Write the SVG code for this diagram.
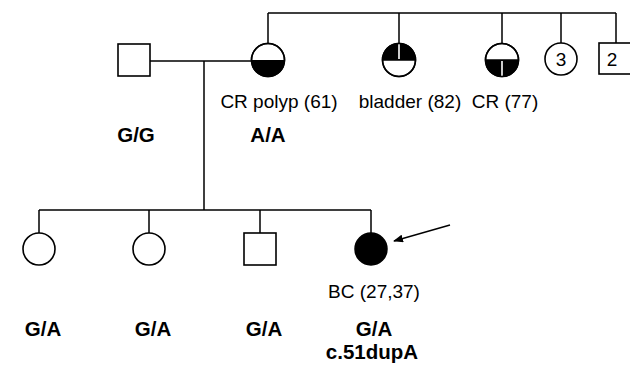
<svg xmlns="http://www.w3.org/2000/svg" width="630" height="365" viewBox="0 0 630 365">
<style>
.ln{stroke:#000;stroke-width:1.5;fill:none}
.sh{stroke:#000;stroke-width:1.6;fill:#fff}
.bk{fill:#000;stroke:none}
.wl{stroke:#fff;stroke-width:1.6}
.t{font-family:"Liberation Sans",Arial,sans-serif;font-size:19px;fill:#000;text-anchor:middle}
.b{font-family:"Liberation Sans",Arial,sans-serif;font-size:20.5px;font-weight:bold;fill:#000;text-anchor:middle}
</style>
<defs>
<marker id="ah" markerWidth="10" markerHeight="8" refX="9" refY="4" orient="auto" markerUnits="userSpaceOnUse">
<path d="M0,0 L10,4 L0,8 Z" fill="#000"/>
</marker>
</defs>
<rect width="630" height="365" fill="#fff"/>
<g id="connectors">
<path class="ln" d="M268,13 H616 M268,13 V43.5 M399,13 V43.5 M502,13 V43.5 M561,13 V43 M616,13 V43"/>
<path class="ln" d="M150,61 H252 M204,61 V210 M39,210 H371 M39,210 V233 M149,210 V233 M260,210 V233 M371,210 V233"/>
<path class="ln" d="M450,225 L394,241" marker-end="url(#ah)"/>
</g>
<g id="father"><rect class="sh" x="118" y="44" width="32" height="32"/></g>
<g id="mother">
<circle class="sh" cx="268" cy="60" r="16.5"/>
<path class="bk" d="M251.5,60 A16.5,16.5 0 0 0 284.5,60 Z"/>
<circle class="ln" cx="268" cy="60" r="16.5"/>
</g>
<g id="aunt-bladder">
<circle class="sh" cx="399" cy="60" r="16.5"/>
<path class="bk" d="M382.5,60 A16.5,16.5 0 0 1 415.5,60 Z"/>
<line class="wl" x1="399" y1="44" x2="399" y2="59"/>
<circle class="ln" cx="399" cy="60" r="16.5"/>
<line class="ln" x1="382.5" y1="60" x2="415.5" y2="60"/>
</g>
<g id="aunt-cr">
<circle class="sh" cx="502" cy="60" r="16.5"/>
<path class="bk" d="M485.5,60 A16.5,16.5 0 0 0 518.5,60 Z"/>
<line class="wl" x1="502" y1="61" x2="502" y2="76"/>
<circle class="ln" cx="502" cy="60" r="16.5"/>
<line class="ln" x1="485.5" y1="60" x2="518.5" y2="60"/>
</g>
<g id="aunts3">
<circle class="sh" cx="561" cy="59" r="16"/>
<text class="t" x="561" y="66">3</text>
</g>
<g id="uncles2">
<rect class="sh" x="599" y="43" width="34" height="31"/>
<text class="t" x="612" y="66">2</text>
</g>
<g id="daughter1"><circle class="sh" cx="39" cy="249" r="16"/></g>
<g id="daughter2"><circle class="sh" cx="149" cy="249" r="16"/></g>
<g id="son"><rect class="sh" x="244" y="233" width="32" height="32"/></g>
<g id="proband"><circle cx="371" cy="249" r="16" fill="#000" stroke="#000" stroke-width="1.5"/></g>
<g id="labels">
<text class="t" x="279" y="108">CR polyp (61)</text>
<text class="t" x="410" y="108">bladder (82)</text>
<text class="t" x="505" y="108">CR (77)</text>
<text class="b" x="136" y="142">G/G</text>
<text class="b" x="268" y="142">A/A</text>
<text class="t" x="374" y="298">BC (27,37)</text>
<text class="b" x="43" y="336">G/A</text>
<text class="b" x="153" y="336">G/A</text>
<text class="b" x="264" y="336">G/A</text>
<text class="b" x="374" y="336">G/A</text>
<text class="b" x="372" y="359">c.51dupA</text>
</g>
</svg>
